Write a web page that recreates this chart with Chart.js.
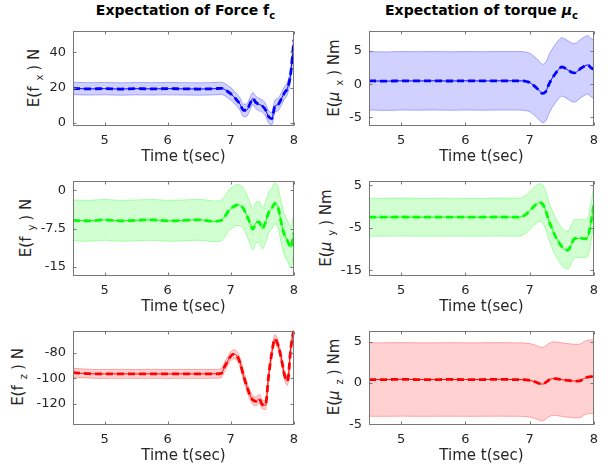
<!DOCTYPE html>
<html>
<head>
<meta charset="utf-8">
<script src="https://cdn.jsdelivr.net/npm/chart.js@4.4.1/dist/chart.umd.min.js"></script>
<style>
body{margin:0;background:#fff;width:611px;height:468px;position:relative;overflow:hidden;font-family:"DejaVu Sans",sans-serif;color:#262626}
canvas{position:absolute}
.ttl{position:absolute;top:2px;width:225px;text-align:center;font-weight:bold;font-size:14px;color:#000;white-space:nowrap}
.ttl sub{font-size:10px;vertical-align:-4px}
.yl{position:absolute;font-size:15px;white-space:nowrap;transform:translate(-50%,-50%) rotate(-90deg)}
.yl sub{font-size:10px;vertical-align:-4px;margin:0 4px 0 6px}
</style>
</head>
<body>
<div class="ttl" style="left:73px">Expectation of Force f<sub>c</sub></div>
<div class="ttl" style="left:369px">Expectation of torque <i>μ</i><sub>c</sub></div>

<div class="yl" style="left:35px;top:78px">E(f<sub>x</sub>) N</div>
<div class="yl" style="left:335px;top:78px">E(<i>μ</i><sub>x</sub>) Nm</div>
<div class="yl" style="left:27px;top:228px">E(f<sub>y</sub>) N</div>
<div class="yl" style="left:327px;top:228px">E(<i>μ</i><sub>y</sub>) Nm</div>
<div class="yl" style="left:19px;top:377px">E(f<sub>z</sub>) N</div>
<div class="yl" style="left:335px;top:377px">E(<i>μ</i><sub>z</sub>) Nm</div>

<canvas id="fx" width="305" height="166" style="left:0;top:0"></canvas>
<canvas id="mux" width="306" height="166" style="left:305px;top:0"></canvas>
<canvas id="fy" width="305" height="150" style="left:0;top:166px"></canvas>
<canvas id="muy" width="306" height="150" style="left:305px;top:166px"></canvas>
<canvas id="fz" width="305" height="152" style="left:0;top:316px"></canvas>
<canvas id="muz" width="306" height="152" style="left:305px;top:316px"></canvas>

<script>
// time axis (sec)
const time = [4.5, 4.75, 5, 5.25, 5.5, 5.75, 6, 6.25, 6.5, 6.75,
  6.85, 6.9, 6.95, 7, 7.05, 7.1, 7.15, 7.2, 7.25, 7.3, 7.35, 7.4,
  7.45, 7.5, 7.55, 7.6, 7.65, 7.7, 7.75, 7.8, 7.85, 7.9, 7.95, 8];
const xTicks = [5, 6, 7, 8];

// force expectations
const fxMean = [19.5, 19.3, 19.4, 19.2, 19.4, 19.3, 19.4, 19.3, 19.2, 19.4,
  19.6, 19.0, 17.8, 16.5, 14.8, 12.8, 10.5, 7.2, 7.2, 10.5, 13.8, 11.5,
  10.5, 9.6, 7.5, 3.5, 2.5, 9.5, 10.4, 13.5, 17.0, 19.8, 28.0, 47.0];
const fyMean = [-5.9, -6.0, -5.8, -6.0, -5.9, -5.8, -6.0, -5.9, -5.8, -6.1,
  -5.9, -5.3, -4.3, -3.6, -3.2, -2.9, -3.0, -3.6, -4.8, -6.3, -7.6, -6.4,
  -6.2, -7.5, -6.3, -4.4, -3.6, -2.6, -3.4, -6.4, -8.7, -9.9, -11.2, -8.3];
const fzMean = [-95.5, -96.3, -96.5, -96.4, -96.5, -96.4, -96.5, -96.4, -96.5, -96.4,
  -96.0, -91.0, -86.5, -82.5, -81.0, -82.5, -88.0, -97.5, -105.5, -112.5, -117.0, -118.0,
  -116.0, -120.5, -121.0, -98.0, -80.0, -69.0, -74.0, -84.0, -97.0, -102.0, -77.0, -61.0];

// torque expectations
const muxMean = [0.5, 0.45, 0.5, 0.48, 0.5, 0.47, 0.5, 0.48, 0.5, 0.5,
  0.5, 0.48, 0.4, 0.25, -0.1, -0.5, -1.0, -1.4, -1.1, 0.0, 0.9, 1.6,
  2.2, 2.6, 2.4, 2.1, 1.8, 1.7, 2.0, 2.4, 2.7, 2.9, 2.5, 2.2];
const muyMean = [-2.5, -2.5, -2.45, -2.5, -2.5, -2.48, -2.5, -2.5, -2.45, -2.5,
  -2.45, -2.2, -1.7, -1.0, -0.2, 0.5, 0.9, 0.6, -1.0, -3.4, -5.3, -7.0,
  -8.3, -9.4, -10.1, -10.2, -8.8, -7.5, -7.5, -7.4, -7.6, -7.2, -4.0, 0.8];
const muzMean = [0.4, 0.4, 0.42, 0.4, 0.4, 0.41, 0.4, 0.4, 0.42, 0.4,
  0.4, 0.38, 0.36, 0.3, 0.22, 0.08, -0.08, -0.15, 0.05, 0.35, 0.5, 0.52,
  0.45, 0.4, 0.32, 0.3, 0.25, 0.22, 0.22, 0.3, 0.55, 0.7, 0.75, 0.75];

// half width of the shaded bands
const fxBand = 3.5, fyBand = 4.0, fzBand = 3.5;
const muxBand = 4.4, muyBand = 4.45, muzBand = 4.45;

// y tick labels
const fxTicks = [0, 20, 40];
const fyTicks = [-15, -7.5, 0];
const fzTicks = [-120, -100, -80];
const muxTicks = [-5, 0, 5];
const muyTicks = [-15, -5, 5];
const muzTicks = [-5, 0, 5];

const txt = '#262626';

// MATLAB style box with inward ticks
const frame = {
  id: 'frame',
  afterDraw(chart) {
    const ctx = chart.ctx, a = chart.chartArea;
    const x = chart.scales.x, y = chart.scales.y;
    const l = Math.round(a.left) + 0.5, r = Math.round(a.right) - 0.5;
    const t = Math.round(a.top) + 0.5, b = Math.round(a.bottom) - 0.5;
    ctx.save();
    ctx.strokeStyle = '#777';
    ctx.lineWidth = 1;
    ctx.strokeRect(l, t, r - l, b - t);
    ctx.beginPath();
    x.ticks.forEach(tk => {
      const px = Math.round(x.getPixelForValue(tk.value)) + 0.5;
      ctx.moveTo(px, b); ctx.lineTo(px, b - 3);
      ctx.moveTo(px, t); ctx.lineTo(px, t + 3);
    });
    y.ticks.forEach(tk => {
      const py = Math.round(y.getPixelForValue(tk.value)) + 0.5;
      ctx.moveTo(l, py); ctx.lineTo(l + 3, py);
      ctx.moveTo(r, py); ctx.lineTo(r - 3, py);
    });
    ctx.stroke();
    ctx.restore();
  }
};

function makePlot(id, mean, band, rgb, yMin, yMax, yTicks, opts) {
  const pts = arr => time.map((t, i) => ({x: t, y: arr[i]}));
  const lower = mean.map(v => v - band);
  const upper = mean.map(v => v + band);
  const line = {pointRadius: 0, cubicInterpolationMode: 'monotone'};
  new Chart(document.getElementById(id), {
    type: 'line',
    data: {
      datasets: [
        Object.assign({data: pts(lower), borderColor: 'rgba(' + rgb + ',0.3)', borderWidth: 1, fill: false}, line),
        Object.assign({data: pts(upper), borderColor: 'rgba(' + rgb + ',0.3)', borderWidth: 1,
          backgroundColor: 'rgba(' + rgb + ',0.18)', fill: '-1'}, line),
        Object.assign({data: pts(mean), borderColor: 'rgb(' + rgb + ')', borderWidth: 1, fill: false}, line),
        Object.assign({data: pts(mean), borderColor: 'rgb(' + rgb + ')', borderWidth: 2.8,
          borderDash: [7, 4], fill: false}, line)
      ]
    },
    options: {
      responsive: false,
      animation: false,
      devicePixelRatio: 1,
      layout: {padding: opts.pad},
      plugins: {legend: {display: false}, tooltip: {enabled: false}},
      scales: {
        x: {
          type: 'linear', min: 4.5, max: 8,
          grid: {display: false, drawTicks: false}, border: {display: false},
          afterBuildTicks: s => { s.ticks = xTicks.map(v => ({value: v})); },
          afterFit: s => { s.height = 40; },
          ticks: {color: txt, font: {family: 'DejaVu Sans', size: 13}, padding: 7, maxRotation: 0,
            callback: v => String(v)},
          title: {display: true, text: 'Time t(sec)', color: txt,
            font: {family: 'DejaVu Sans', size: 15}, padding: {top: 0, bottom: 0}}
        },
        y: {
          min: yMin, max: yMax,
          grid: {display: false, drawTicks: false}, border: {display: false},
          afterBuildTicks: s => { s.ticks = yTicks.map(v => ({value: v})); },
          afterFit: s => { s.width = opts.yw; },
          ticks: {color: txt, font: {family: 'DejaVu Sans', size: 13}, padding: 7,
            callback: v => String(v)}
        }
      }
    },
    plugins: [frame]
  });
}

const leftPad = (top, bottom) => ({left: 0, right: 7, top: top, bottom: bottom});
const rightPad = (top, bottom) => ({left: 0, right: 17, top: top, bottom: bottom});

makePlot('fx', fxMean, fxBand, '0,0,255', -1.7, 52, fxTicks, {pad: leftPad(31, 0), yw: 73});
makePlot('mux', muxMean, muxBand, '0,0,255', -6.3, 8, muxTicks, {pad: rightPad(31, 0), yw: 64});
makePlot('fy', fyMean, fyBand, '0,255,0', -16.8, 1.8, fyTicks, {pad: leftPad(15, 0), yw: 73});
makePlot('muy', muyMean, muyBand, '0,255,0', -16.3, 6, muyTicks, {pad: rightPad(15, 0), yw: 64});
makePlot('fz', fzMean, fzBand, '255,0,0', -136.6, -62.6, fzTicks, {pad: leftPad(14, 3), yw: 73});
makePlot('muz', muzMean, muzBand, '255,0,0', -5.1, 6.3, muzTicks, {pad: rightPad(14, 3), yw: 64});
</script>
</body>
</html>
